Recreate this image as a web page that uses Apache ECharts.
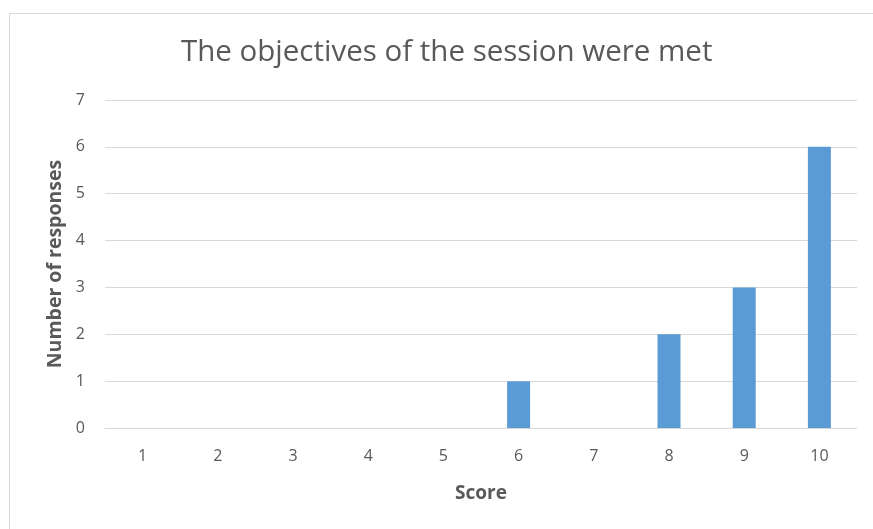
<!DOCTYPE html>
<html>
<head>
<meta charset="utf-8">
<script src="https://cdn.jsdelivr.net/npm/echarts@6/dist/echarts.min.js"></script>
<style>html,body{margin:0;padding:0;background:#fff;}#c{width:873px;height:529px;}</style>
</head>
<body>
<div id="c"></div>
<script>
const categories = ['1','2','3','4','5','6','7','8','9','10'];
const responses = [0,0,0,0,0,1,0,2,3,6];
const titleText = 'The objectives of the session were met';
const xName = 'Score';
const yName = 'Number of responses';

const chart = echarts.init(document.getElementById('c'), null, {renderer:'canvas'});
const font = 'Open Sans, Liberation Sans, sans-serif';
chart.setOption({
  animation: false,
  backgroundColor: '#fff',
  graphic: [{
    type: 'rect', left: 7, top: 11, silent: true,
    shape: {width: 900, height: 560},
    style: {fill: 'none', stroke: '#d9d9d9', lineWidth: 1}
  }],
  title: {
    text: titleText, left: 176, top: 33,
    textStyle: {fontFamily: font, fontSize: 29.5, fontWeight: 'normal', color: '#595959'}
  },
  grid: {left: 105, right: 16, top: 100, bottom: 101, containLabel: false},
  xAxis: {
    type: 'category', data: categories,
    name: xName, nameLocation: 'middle', nameGap: 56,
    nameTextStyle: {fontFamily: font, fontSize: 19, fontWeight: 'bold', color: '#595959'},
    axisLine: {show: true, lineStyle: {color: '#d9d9d9'}},
    axisTick: {show: false},
    axisLabel: {fontFamily: font, fontSize: 16, color: '#595959', margin: 20}
  },
  yAxis: {
    type: 'value', min: 0, max: 7, interval: 1,
    name: yName, nameLocation: 'middle', nameGap: 40, nameRotate: 90,
    nameTextStyle: {fontFamily: font, fontSize: 19.5, fontWeight: 'bold', color: '#595959'},
    axisLine: {show: false}, axisTick: {show: false},
    axisLabel: {fontFamily: font, fontSize: 16, color: '#595959', margin: 20},
    splitLine: {lineStyle: {color: '#d9d9d9', width: 1}}
  },
  series: [{
    type: 'bar', data: responses, barWidth: 23,
    itemStyle: {color: '#5b9bd5'}
  }]
});
</script>
</body>
</html>
